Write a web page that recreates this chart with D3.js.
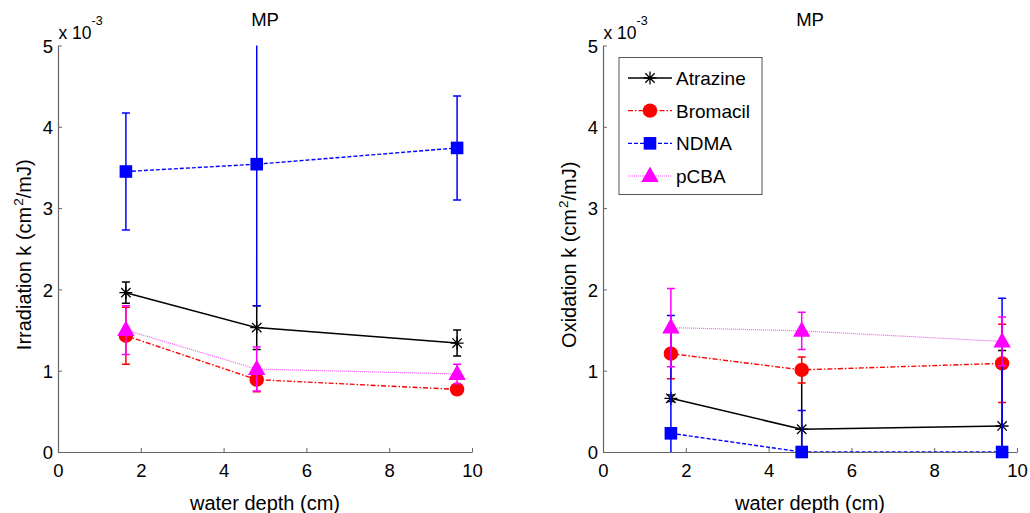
<!DOCTYPE html>
<html><head><meta charset="utf-8">
<script src="https://cdn.jsdelivr.net/npm/d3@7"></script>
<style>body{margin:0;background:#fff}svg{display:block}text{font-family:"Liberation Sans",Arial,sans-serif;fill:#000}</style>
</head><body>
<svg id="c" width="1030" height="513"></svg>
<script>
const depth = [1.64, 4.8, 9.64];
const seriesNames = ["Atrazine", "Bromacil", "NDMA", "pCBA"];
// Irradiation k (x 10^-3)
const irrAtrazine = [1.96, 1.53, 1.34], irrAtrazineErr = [0.13, 0.27, 0.16];
const irrBromacil = [1.43, 0.89, 0.77], irrBromacilErr = [0.35, 0.15, 0.02];
const irrNDMA = [3.45, 3.54, 3.74], irrNDMAErr = [0.72, 1.74, 0.64];
const irrPCBA = [1.50, 1.02, 0.96], irrPCBAErr = [0.30, 0.27, 0.12];
// Oxidation k (x 10^-3)
const oxAtrazine = [0.66, 0.28, 0.32], oxAtrazineErr = [0.04, 0.72, 0.93];
const oxBromacil = [1.21, 1.01, 1.09], oxBromacilErr = [0.31, 0.16, 0.48];
const oxNDMA = [0.23, 0.0, 0.0], oxNDMAErr = [1.45, 0.51, 1.89];
const oxPCBA = [1.53, 1.49, 1.36], oxPCBAErr = [0.48, 0.23, 0.30];
const xTicks = [0, 2, 4, 6, 8, 10];
const yTicks = [0, 1, 2, 3, 4, 5];

const styles = {
  Atrazine: {color: "#000", dash: null, width: 1.5, marker: "star"},
  Bromacil: {color: "#ff0000", dash: "5,2,1.5,2", width: 1.4, marker: "circle"},
  NDMA: {color: "#0000ff", dash: "4,2", width: 1.4, marker: "square"},
  pCBA: {color: "#ff55ff", dash: "1,1", width: 1.2, marker: "triangle", mcolor: "#ff00ff"}
};

const svg = d3.select("#c");

function drawMarker(g, type, x, y, color) {
  if (type === "star") {
    const r = 6.5, d = r * 0.72;
    const p = `M${x-r},${y}L${x+r},${y}M${x},${y-r}L${x},${y+r}M${x-d},${y-d}L${x+d},${y+d}M${x-d},${y+d}L${x+d},${y-d}`;
    g.append("path").attr("d", p).attr("stroke", color).attr("stroke-width", 1.3).attr("fill", "none");
  } else if (type === "circle") {
    g.append("circle").attr("cx", x).attr("cy", y).attr("r", 7.2).attr("fill", color);
  } else if (type === "square") {
    g.append("rect").attr("x", x - 6.3).attr("y", y - 6.3).attr("width", 12.6).attr("height", 12.6).attr("fill", color);
  } else if (type === "triangle") {
    g.append("path").attr("d", `M${x},${y-9.5}L${x+8.7},${y+6}L${x-8.7},${y+6}Z`).attr("fill", color);
  }
}

function panel(opts) {
  const {x0, x1, y0, y1, ylabel, data, id, legend} = opts;
  const x = d3.scaleLinear().domain([0, 10]).range([x0, x1]);
  const y = d3.scaleLinear().domain([0, 5]).range([y1, y0]);
  const g = svg.append("g");
  g.append("clipPath").attr("id", id).append("rect")
    .attr("x", x0).attr("y", y0).attr("width", x1 - x0).attr("height", y1 - y0);

  const ax = g.append("g").attr("transform", `translate(0,${y1})`)
    .call(d3.axisBottom(x).tickValues(xTicks).tickFormat(d3.format("d")).tickSizeInner(-4).tickSizeOuter(0).tickPadding(12));
  const ay = g.append("g").attr("transform", `translate(${x0},0)`)
    .call(d3.axisLeft(y).tickValues(yTicks).tickFormat(d3.format("d")).tickSizeInner(-4).tickSizeOuter(0).tickPadding(5));
  [ax, ay].forEach(a => {
    a.select(".domain").attr("stroke", "#666").attr("stroke-width", 1.2);
    a.selectAll(".tick line").attr("stroke", "#666");
    a.selectAll(".tick text").style("font-size", "18.5px").attr("fill", "#000");
  });
  ay.selectAll(".tick text").attr("dy", "0.36em");
  ax.selectAll(".tick text").attr("dy", "0.72em");

  const m = g.append("text").attr("x", x0 + 0.5).attr("y", 39).style("font-size", "17.5px");
  m.append("tspan").text("x 10");
  m.append("tspan").attr("dy", -14).style("font-size", "12.5px").text("-3");

  g.append("text").attr("x", (x0 + x1) / 2).attr("y", 26).attr("text-anchor", "middle")
    .style("font-size", "18.5px").text("MP");
  g.append("text").attr("x", (x0 + x1) / 2).attr("y", 510).attr("text-anchor", "middle")
    .style("font-size", "20px").text("water depth (cm)");
  const yl = g.append("text").attr("transform", `translate(${x0 - 27},${(y0 + y1) / 2 + 6}) rotate(-90)`)
    .attr("text-anchor", "middle").style("font-size", "20px");
  yl.append("tspan").text(ylabel + " k (cm");
  yl.append("tspan").attr("dy", -8).attr("dx", 1).style("font-size", "13.5px").text("2");
  yl.append("tspan").attr("dy", 8).text("/mJ)");

  data.forEach(s => {
    const st = styles[s.name];
    const sg = g.append("g");
    const clipped = sg.append("g").attr("clip-path", `url(#${id})`);
    const pts = depth.map((d, i) => ({x: d, v: s.values[i], e: s.err[i]}));
    clipped.append("path").datum(pts)
      .attr("d", d3.line().x(d => x(d.x)).y(d => y(d.v)))
      .attr("fill", "none").attr("stroke", st.color).attr("stroke-width", st.width)
      .attr("stroke-dasharray", st.dash);
    pts.forEach(p => {
      if (p.e <= 0) return;
      const cx = x(p.x), yt = y(p.v + p.e), yb = y(p.v - p.e);
      const ec = st.mcolor || st.color;
      clipped.append("path").attr("d", `M${cx},${yt}L${cx},${yb}M${cx-4},${yt}L${cx+4},${yt}M${cx-4},${yb}L${cx+4},${yb}`)
        .attr("stroke", ec).attr("stroke-width", 1.5).attr("fill", "none");
    });
    pts.forEach(p => drawMarker(sg, st.marker, x(p.x), y(p.v), st.mcolor || st.color));
  });

  if (legend) {
    const lx = 619, ly = 57.5, lw = 143, lh = 137;
    const lg = g.append("g");
    lg.append("rect").attr("x", lx).attr("y", ly).attr("width", lw).attr("height", lh)
      .attr("fill", "#fff").attr("stroke", "#555").attr("stroke-width", 1);
    const rowY = d3.scalePoint().domain(seriesNames).range([78, 176]);
    seriesNames.forEach(n => {
      const st = styles[n];
      const yy = rowY(n);
      lg.append("line").attr("x1", 628).attr("x2", 672).attr("y1", yy).attr("y2", yy)
        .attr("stroke", st.color).attr("stroke-width", st.width).attr("stroke-dasharray", st.dash);
      drawMarker(lg, st.marker, 650, yy, st.mcolor || st.color);
      lg.append("text").attr("x", 676).attr("y", yy).attr("dy", "0.36em").style("font-size", "19px").text(n);
    });
  }
}

panel({x0: 58, x1: 472, y0: 45.5, y1: 452, ylabel: "Irradiation", id: "clipL", legend: false,
  data: [
    {name: "Atrazine", values: irrAtrazine, err: irrAtrazineErr},
    {name: "Bromacil", values: irrBromacil, err: irrBromacilErr},
    {name: "NDMA", values: irrNDMA, err: irrNDMAErr},
    {name: "pCBA", values: irrPCBA, err: irrPCBAErr}
  ]});
panel({x0: 603, x1: 1017, y0: 45.5, y1: 452, ylabel: "Oxidation", id: "clipR", legend: true,
  data: [
    {name: "Atrazine", values: oxAtrazine, err: oxAtrazineErr},
    {name: "Bromacil", values: oxBromacil, err: oxBromacilErr},
    {name: "NDMA", values: oxNDMA, err: oxNDMAErr},
    {name: "pCBA", values: oxPCBA, err: oxPCBAErr}
  ]});
</script>
</body></html>
